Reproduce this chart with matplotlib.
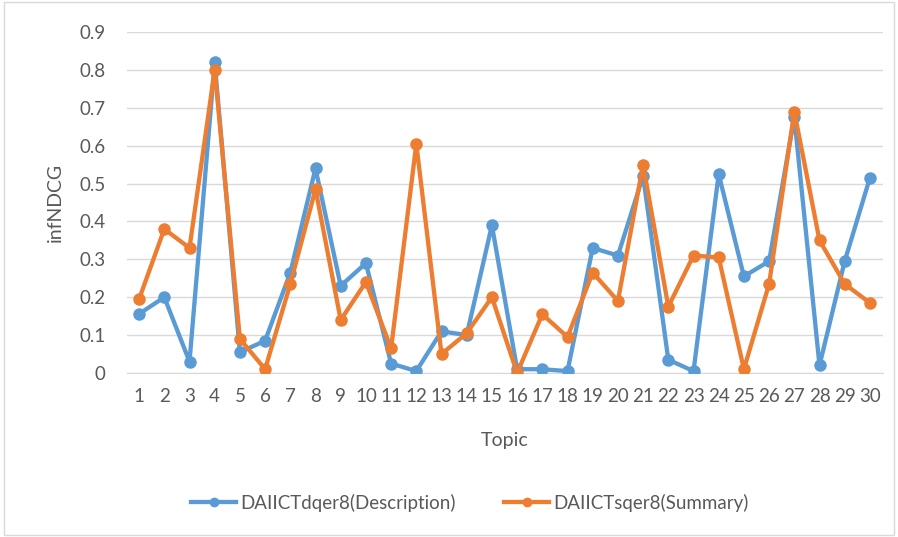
import matplotlib
matplotlib.use("Agg")
import matplotlib.pyplot as plt
from matplotlib.patches import Rectangle

topics = list(range(1, 31))
description = [0.156, 0.20, 0.03, 0.82, 0.055, 0.085, 0.265, 0.54, 0.23, 0.29,
               0.025, 0.005, 0.11, 0.10, 0.39, 0.01, 0.01, 0.005, 0.33, 0.31,
               0.52, 0.035, 0.005, 0.525, 0.255, 0.295, 0.675, 0.02, 0.295, 0.515]
summary = [0.195, 0.38, 0.33, 0.80, 0.09, 0.01, 0.235, 0.485, 0.14, 0.24,
           0.065, 0.605, 0.05, 0.105, 0.20, 0.0, 0.155, 0.095, 0.265, 0.19,
           0.55, 0.175, 0.31, 0.305, 0.01, 0.235, 0.69, 0.35, 0.235, 0.185]
yticks = [0, 0.1, 0.2, 0.3, 0.4, 0.5, 0.6, 0.7, 0.8, 0.9]
ytick_labels = ["0", "0.1", "0.2", "0.3", "0.4", "0.5", "0.6", "0.7", "0.8", "0.9"]

plt.rcParams['font.family'] = ['Lato', 'DejaVu Sans']
text_color = '#595959'

fig = plt.figure(figsize=(8.98, 5.37), dpi=100)
fig.patches.append(Rectangle((0.004, 0.004), 0.992, 0.992, transform=fig.transFigure,
                             fill=False, edgecolor='#d9d9d9', linewidth=1))
ax = fig.add_axes([126.5 / 898, 1 - 373 / 537, (882.5 - 126.5) / 898, (373 - 32) / 537])

ax.plot(topics, description, color='#5B9BD5', linewidth=3.1, marker='o',
        markersize=8, label='DAIICTdqer8(Description)', zorder=3)
ax.plot(topics, summary, color='#ED7D31', linewidth=3.1, marker='o',
        markersize=8, label='DAIICTsqer8(Summary)', zorder=4)

ax.set_xlim(0.5, 30.5)
ax.set_ylim(0, 0.9)
ax.set_yticks(yticks)
ax.set_yticklabels(ytick_labels)
ax.set_xticks(topics)
ax.grid(axis='y', color='#d9d9d9', linewidth=1)
ax.set_axisbelow(True)
for s in ['top', 'right', 'left']:
    ax.spines[s].set_visible(False)
ax.spines['bottom'].set_color('#d9d9d9')
ax.tick_params(length=0, labelsize=13.5, colors=text_color, pad=11)
ax.tick_params(axis='y', pad=15)
ax.set_xlabel('Topic', fontsize=14, color=text_color, labelpad=19)
ax.set_ylabel('infNDCG', fontsize=14, color=text_color, labelpad=11)

fig.legend(loc='center', bbox_to_anchor=(470 / 898, 1 - 503 / 537), ncol=2,
           frameon=False, fontsize=13.5, labelcolor=text_color, handlelength=2.4,
           columnspacing=2.6, handletextpad=0.2, markerscale=0.75)

fig.savefig('out.png', dpi=100)
